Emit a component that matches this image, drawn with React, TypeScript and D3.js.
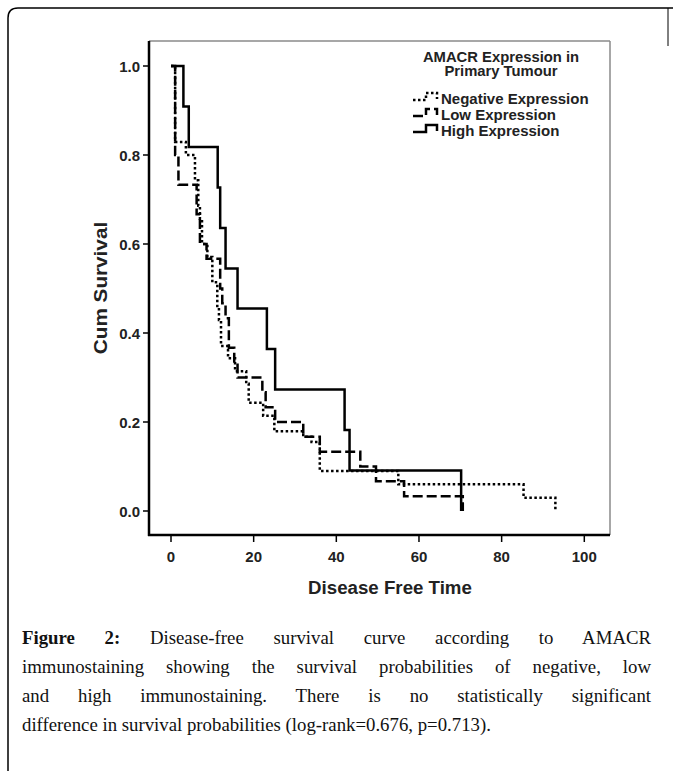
import React, { useLayoutEffect, useRef } from "react";
import * as d3 from "d3";

// ---- Data ----
const xTicks = [0, 20, 40, 60, 80, 100];
const yTicks = [0, 0.2, 0.4, 0.6, 0.8, 1.0];

const negTimes = [0, 1.0, 3.6, 5.8, 6.6, 7.0, 7.5, 8.8, 10.0, 11.2, 11.6, 12.1, 13.8, 15.5, 18.2, 18.8, 22.3, 25.0, 32.0, 34.0, 36.0, 55.0, 85.3, 93.0];
const negSurv = [1, 0.829, 0.8, 0.743, 0.686, 0.657, 0.6, 0.571, 0.514, 0.457, 0.429, 0.371, 0.343, 0.314, 0.286, 0.243, 0.214, 0.179, 0.167, 0.155, 0.09, 0.06, 0.03, 0];

const lowTimes = [0, 1.0, 1.8, 6.2, 7.0, 8.6, 11.9, 12.4, 13.2, 14.0, 15.3, 16.1, 22.1, 22.9, 25.2, 32.0, 36.0, 45.8, 49.6, 56.4, 70.6];
const lowSurv = [1, 0.8, 0.733, 0.667, 0.6, 0.567, 0.5, 0.467, 0.433, 0.367, 0.333, 0.3, 0.267, 0.233, 0.2, 0.167, 0.133, 0.1, 0.067, 0.033, 0];

const highTimes = [0, 3.0, 4.3, 11.3, 11.9, 13.2, 16.1, 23.2, 25.2, 42.0, 43.2, 70.2];
const highSurv = [1, 0.909, 0.818, 0.727, 0.636, 0.545, 0.455, 0.364, 0.273, 0.182, 0.091, 0];

const seriesNames = ["Negative Expression", "Low Expression", "High Expression"];
const legendTitle = ["AMACR Expression in", "Primary Tumour"];
const xTitle = "Disease Free Time";
const yTitle = "Cum Survival";

const captionBold = "Figure 2:";
const captionLines = [
  " Disease-free survival curve according to AMACR",
  "immunostaining showing the survival probabilities of negative, low",
  "and high immunostaining. There is no statistically significant",
  "difference in survival probabilities (log-rank=0.676, p=0.713).",
];

// ---- Layout ----
const W = 673;
const H = 771;
const frame = { left: 149, right: 610, top: 41, bottom: 535 };
const sans = "'Liberation Sans', Arial, sans-serif";
const serif = "'Liberation Serif', 'Times New Roman', serif";

const dashStyles = ["2.5,2.5", "10,4", "none"];

export default function App() {
  const x = d3.scaleLinear().domain([0, 100]).range([171, 584.3]);
  const y = d3.scaleLinear().domain([0, 1]).range([511, 66]);

  const line = d3
    .line<[number, number]>()
    .x((d) => x(d[0]))
    .y((d) => y(d[1]))
    .curve(d3.curveStepAfter);

  const series = [
    negTimes.map((t, i) => [t, negSurv[i]] as [number, number]),
    lowTimes.map((t, i) => [t, lowSurv[i]] as [number, number]),
    highTimes.map((t, i) => [t, highSurv[i]] as [number, number]),
  ];

  const capRefs = useRef<(SVGTextElement | null)[]>([]);
  useLayoutEffect(() => {
    capRefs.current.forEach((el, i) => {
      if (!el || i === captionLines.length - 1) return;
      el.setAttribute("word-spacing", "0");
      const len = el.getComputedTextLength();
      const spaces = (el.textContent || "").split(" ").length - 1;
      if (spaces > 0) el.setAttribute("word-spacing", String((651 - 22 - len) / spaces));
    });
  });

  const legendBase = [104, 120, 136];

  return (
    <svg
      width={W}
      height={H}
      style={{ position: "absolute", left: 0, top: 0, background: "#fff" }}
    >
      {/* outer rounded frame */}
      <path d={`M8,${H + 5} V18 Q8,8 18,8 H${W + 5}`} fill="none" stroke="#000" strokeWidth={1.5} />
      <line x1={668} x2={668} y1={8} y2={46} stroke="#000" strokeWidth={1} />

      {/* plot frame */}
      <line x1={frame.left} x2={frame.right} y1={frame.top} y2={frame.top} stroke="#8a8a8a" strokeWidth={1.5} />
      <line x1={frame.right} x2={frame.right} y1={frame.top} y2={frame.bottom} stroke="#8a8a8a" strokeWidth={1.5} />
      <line x1={frame.left} x2={frame.left} y1={frame.top} y2={frame.bottom + 1} stroke="#000" strokeWidth={2.5} />
      <line x1={frame.left - 1} x2={frame.right} y1={frame.bottom} y2={frame.bottom} stroke="#000" strokeWidth={2.5} />

      {/* y ticks */}
      {yTicks.map((v) => (
        <g key={"y" + v}>
          <line x1={frame.left - 6} x2={frame.left} y1={y(v)} y2={y(v)} stroke="#000" strokeWidth={1.5} />
          <text
            x={frame.left - 9}
            y={y(v) + 5.5}
            textAnchor="end"
            fontFamily={sans}
            fontWeight="bold"
            fontSize={15}
            fill="#222"
          >
            {v.toFixed(1)}
          </text>
        </g>
      ))}

      {/* x ticks */}
      {xTicks.map((v) => (
        <g key={"x" + v}>
          <line x1={x(v)} x2={x(v)} y1={frame.bottom} y2={frame.bottom + 7} stroke="#000" strokeWidth={1.5} />
          <text
            x={x(v)}
            y={562}
            textAnchor="middle"
            fontFamily={sans}
            fontWeight="bold"
            fontSize={15}
            fill="#222"
          >
            {v}
          </text>
        </g>
      ))}

      {/* axis titles */}
      <text
        x={390}
        y={594}
        textAnchor="middle"
        fontFamily={sans}
        fontWeight="bold"
        fontSize={18.7}
        fill="#222"
      >
        {xTitle}
      </text>
      <text
        transform={`translate(107,${(frame.top + frame.bottom) / 2}) rotate(-90) scale(1.12,1)`}
        textAnchor="middle"
        fontFamily={sans}
        fontWeight="bold"
        fontSize={18.5}
        fill="#222"
      >
        {yTitle}
      </text>

      {/* curves */}
      {series.map((s, i) => (
        <path
          key={"s" + i}
          d={line(s) || ""}
          fill="none"
          stroke="#000"
          strokeWidth={2.5}
          strokeDasharray={dashStyles[i]}
        />
      ))}

      {/* legend */}
      {legendTitle.map((t, i) => (
        <text
          key={"lt" + i}
          x={501}
          y={61.5 + i * 14}
          textAnchor="middle"
          fontFamily={sans}
          fontWeight="bold"
          fontSize={14.8}
          fill="#222"
        >
          {t}
        </text>
      ))}
      {seriesNames.map((n, i) => {
        const b = legendBase[i];
        return (
          <g key={"lg" + i}>
            <path
              d={`M413,${b - 4} H426 V${b - 11} H437 V${b - 5}`}
              fill="none"
              stroke="#000"
              strokeWidth={2.5}
              strokeDasharray={dashStyles[i]}
            />
            <text x={441} y={b} fontFamily={sans} fontWeight="bold" fontSize={15} fill="#222">
              {n}
            </text>
          </g>
        );
      })}

      {/* caption */}
      {captionLines.map((l, i) => (
        <text
          key={"c" + i}
          ref={(el) => {
            capRefs.current[i] = el;
          }}
          x={22}
          y={644 + i * 29}
          fontFamily={serif}
          fontSize={18.8}
          fill="#111"
        >
          {i === 0 ? <tspan fontWeight="bold">{captionBold}</tspan> : null}
          {l}
        </text>
      ))}
    </svg>
  );
}
